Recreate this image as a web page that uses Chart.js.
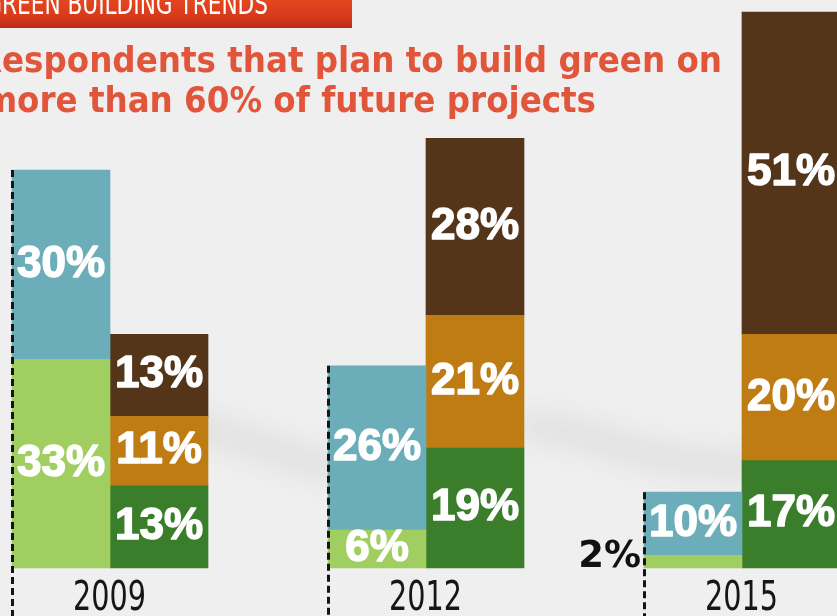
<!DOCTYPE html>
<html>
<head>
<meta charset="utf-8">
<script src="https://cdn.jsdelivr.net/npm/chart.js@4.4.1/dist/chart.umd.min.js"></script>
<style>
  html, body { margin: 0; padding: 0; background: #eeeeee; overflow: hidden; }
  #wrap { position: relative; width: 837px; height: 616px; }
</style>
</head>
<body>
<div id="wrap"><canvas id="myChart" width="837" height="616"></canvas></div>
<script>
// survey years and shares (%) for the two stacked bars of each year
const years = ["2009", "2012", "2015"];
const lightGreen = [33, 6, 2];   // left bar, bottom
const blue = [30, 26, 10];       // left bar, top
const darkGreen = [13, 19, 17];  // right bar, bottom
const gold = [11, 21, 20];       // right bar, middle
const brown = [13, 28, 51];      // right bar, top

const bannerText = "GREEN BUILDING TRENDS";
const titleLines = ["Respondents that plan to build green on", "more than 60% of future projects"];

const narrow = '"Liberation Sans Narrow", "DejaVu Sans Condensed", "Roboto", sans-serif';

// draw text squeezed horizontally to a given width
function squeezed(c, text, x, y, width) {
  const w = c.measureText(text).width;
  c.save();
  c.translate(x, y);
  c.scale(width / w, 1);
  c.fillText(text, 0, 0);
  c.restore();
}

document.addEventListener("DOMContentLoaded", function () {
  const ctx = document.getElementById("myChart").getContext("2d");

  // page backdrop: soft swoosh, red banner and the headline
  const backdrop = {
    id: "backdrop",
    beforeDraw(chart) {
      const c = chart.ctx;
      c.save();
      c.fillStyle = "#efefef";
      c.fillRect(0, 0, chart.width, chart.height);

      c.filter = "blur(14px)";
      c.strokeStyle = "rgba(200,200,200,0.5)";
      c.lineWidth = 20;
      c.beginPath();
      c.moveTo(120, 415);
      c.bezierCurveTo(220, 420, 300, 470, 360, 470);
      c.stroke();
      c.beginPath();
      c.moveTo(520, 425);
      c.bezierCurveTo(600, 430, 650, 470, 760, 465);
      c.stroke();
      c.filter = "none";

      const g = c.createLinearGradient(0, 0, 0, 28);
      g.addColorStop(0, "#e5461f");
      g.addColorStop(0.6, "#d63a1a");
      g.addColorStop(1, "#b92c15");
      c.fillStyle = g;
      c.fillRect(0, -2, 352, 30);

      c.fillStyle = "#ffffff";
      c.textAlign = "left";
      c.textBaseline = "alphabetic";
      c.font = "30px " + narrow;
      let sx = 266 / c.measureText(bannerText.slice(1)).width;
      let lead = c.measureText(bannerText[0]).width * sx;
      squeezed(c, bannerText, 2 - lead, 14, c.measureText(bannerText).width * sx);

      c.fillStyle = "#e1553a";
      c.font = "bold 35px " + narrow;
      sx = 720 / c.measureText(titleLines[0].slice(1)).width;
      lead = c.measureText(titleLines[0][0]).width * sx;
      squeezed(c, titleLines[0], 2 - lead, 72, c.measureText(titleLines[0]).width * sx);
      const w2 = c.measureText(titleLines[1]).width * sx;
      squeezed(c, titleLines[1], 596 - w2, 112, w2);
      c.restore();
    },
  };

  // year labels under each pair of bars, placed by the x scale
  const yearLabels = {
    id: "yearLabels",
    afterDraw(chart) {
      const c = chart.ctx;
      const xs = chart.scales.x;
      c.save();
      c.fillStyle = "#161616";
      c.font = "40px " + narrow;
      c.textAlign = "left";
      c.textBaseline = "alphabetic";
      chart.data.labels.forEach((lab, i) => {
        const x = xs.getPixelForValue(i);
        squeezed(c, lab, x - 37, 610, 73);
      });
      c.restore();
    },
  };

  // dashed rule along the left edge of each year's first bar
  const dashes = {
    id: "dashes",
    afterDatasetsDraw(chart) {
      const c = chart.ctx;
      const meta = chart.getDatasetMeta(1);
      c.save();
      c.strokeStyle = "#151515";
      c.lineWidth = 3;
      c.setLineDash([7, 4]);
      meta.data.forEach((bar) => {
        const x = bar.x - bar.width / 2 + 0.5;
        c.beginPath();
        c.moveTo(x, bar.y);
        c.lineTo(x, chart.height);
        c.stroke();
      });
      c.restore();
    },
  };

  // percentage labels inside the segments
  const valueLabels = {
    id: "valueLabels",
    afterDatasetsDraw(chart) {
      const c = chart.ctx;
      c.save();
      c.lineJoin = "round";
      chart.data.datasets.forEach((ds, i) => {
        chart.getDatasetMeta(i).data.forEach((bar, j) => {
          const v = ds.data[j];
          const text = v + "%";
          if (v < 5) {
            c.font = "bold 37px 'DejaVu Sans', sans-serif";
            c.fillStyle = "#111111";
            c.textAlign = "right";
            c.textBaseline = "alphabetic";
            c.fillText(text, bar.x - bar.width / 2 - 3, bar.base - 1);
          } else {
            c.font = "bold 44px 'Liberation Sans', Arial, sans-serif";
            c.fillStyle = "#ffffff";
            c.strokeStyle = "#ffffff";
            c.lineWidth = 1.5;
            c.textAlign = "center";
            c.textBaseline = "middle";
            const y = (bar.y + bar.base) / 2;
            c.strokeText(text, bar.x, y);
            c.fillText(text, bar.x, y);
          }
        });
      });
      c.restore();
    },
  };

  const myChart = new Chart(ctx, {
    type: "bar",
    data: {
      labels: years,
      datasets: [
        { label: "Left bar, bottom", data: lightGreen, backgroundColor: "#a0ce60", stack: "left" },
        { label: "Left bar, top", data: blue, backgroundColor: "#6badb8", stack: "left" },
        { label: "Right bar, bottom", data: darkGreen, backgroundColor: "#3a7e2b", stack: "right" },
        { label: "Right bar, middle", data: gold, backgroundColor: "#bf7c13", stack: "right" },
        { label: "Right bar, top", data: brown, backgroundColor: "#55351a", stack: "right" },
      ],
    },
    options: {
      responsive: false,
      animation: false,
      devicePixelRatio: 1,
      layout: { padding: { left: 110, right: 95, top: 0, bottom: 48 } },
      datasets: { bar: { barThickness: 98, borderWidth: 0, clip: false } },
      plugins: { legend: { display: false }, tooltip: { enabled: false } },
      scales: {
        x: {
          stacked: true,
          offset: false,
          display: false,
          grid: { display: false, offset: false },
        },
        y: {
          stacked: true,
          display: false,
          min: 0,
          max: 89.9,
        },
      },
    },
    plugins: [backdrop, dashes, valueLabels, yearLabels],
  });
});
</script>
</body>
</html>
